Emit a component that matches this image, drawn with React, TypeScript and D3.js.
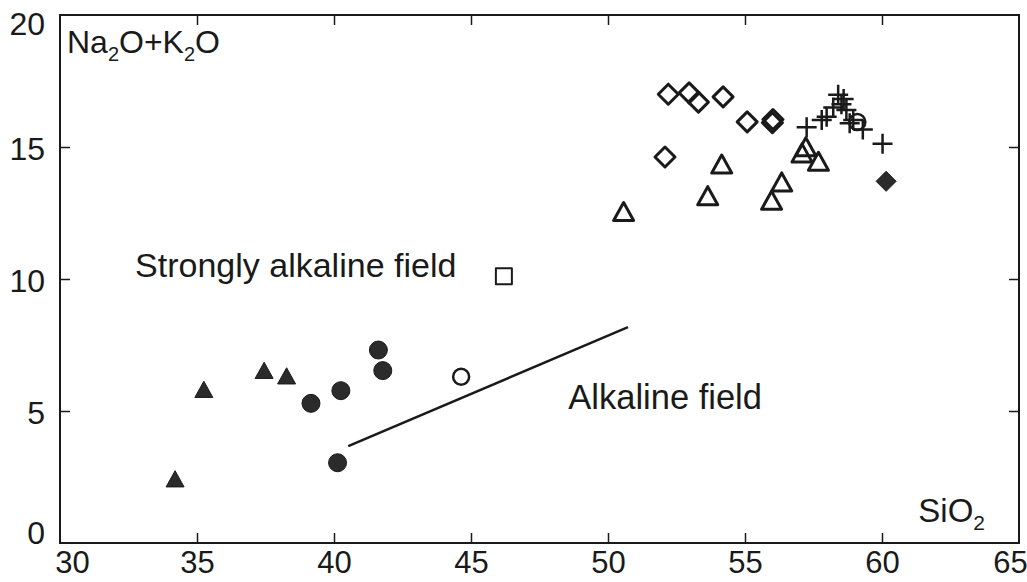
import { useEffect, useRef } from 'react';
import * as d3 from 'd3';

// SiO2 (x) vs Na2O+K2O (y)
const filledTriangles: [number, number][] = [[34.2, 2.38], [35.25, 5.77], [37.45, 6.49], [38.27, 6.28]];
const filledCircles: [number, number][] = [[39.16, 5.29], [40.25, 5.77], [41.62, 7.31], [41.78, 6.53], [40.13, 3.04]];
const openCircles: [number, number][] = [[44.64, 6.3], [59.1, 15.95]];
const openSquares: [number, number][] = [[46.2, 10.1]];
const openTriangles: [number, number][] = [
  [50.57, 12.5], [53.64, 13.1], [54.15, 14.3], [55.97, 12.93], [56.34, 13.62],
  [57.08, 14.72], [57.22, 14.95], [57.68, 14.4],
];
const openDiamonds: [number, number][] = [
  [52.2, 17.0], [52.96, 17.05], [53.3, 16.7], [54.2, 16.9], [55.08, 15.95],
  [56.0, 15.92], [56.02, 16.04], [52.08, 14.62],
];
const filledDiamonds: [number, number][] = [[60.15, 13.7]];
const crosses: [number, number][] = [
  [57.25, 15.75], [60.02, 15.12], [58.4, 16.98], [58.52, 16.62], [57.98, 16.15],
  [57.8, 16.02], [58.7, 16.4], [58.95, 16.02], [59.3, 15.66], [58.82, 15.9],
  [58.22, 16.5], [58.6, 16.82],
];
const boundary: [number, number][] = [[40.52, 3.67], [50.73, 8.18]];

const xTicks = [30, 35, 40, 45, 50, 55, 60, 65];
const yTicks = [0, 5, 10, 15, 20];

// custom symbol types, drawn at "size" = half-width in px
const triType = {
  draw(ctx: any, r: number) {
    ctx.moveTo(0, -r * 1.05);
    ctx.lineTo(r, r * 0.75);
    ctx.lineTo(-r, r * 0.75);
    ctx.closePath();
  },
};
const diamondType = {
  draw(ctx: any, r: number) {
    ctx.moveTo(0, -r);
    ctx.lineTo(r, 0);
    ctx.lineTo(0, r);
    ctx.lineTo(-r, 0);
    ctx.closePath();
  },
};
const squareType = {
  draw(ctx: any, r: number) {
    ctx.rect(-r, -r, 2 * r, 2 * r);
  },
};
const plusType = {
  draw(ctx: any, r: number) {
    ctx.moveTo(-r, 0);
    ctx.lineTo(r, 0);
    ctx.moveTo(0, -r);
    ctx.lineTo(0, r);
  },
};
const circleType = {
  draw(ctx: any, r: number) {
    ctx.moveTo(r, 0);
    ctx.arc(0, 0, r, 0, 2 * Math.PI);
  },
};

export default function App() {
  const ref = useRef<SVGSVGElement | null>(null);

  useEffect(() => {
    if (!ref.current) return;
    document.body.style.margin = '0';

    const svg = d3.select(ref.current);
    svg.selectAll('*').remove();

    const width = 1027;
    const height = 582;
    const margin = { top: 15, right: 8, bottom: 39, left: 60 };

    const x = d3.scaleLinear().domain([30, 65]).range([margin.left, width - margin.right]);
    const y = d3.scaleLinear().domain([0, 20]).range([height - margin.bottom, margin.top]);

    svg.attr('width', width).attr('height', height).style('background', '#fff').style('display', 'block');

    const font = '"Liberation Sans", Arial, sans-serif';
    const ink = '#1a1a1a';

    // frame
    svg.append('rect')
      .attr('x', x(30))
      .attr('y', y(20))
      .attr('width', x(65) - x(30))
      .attr('height', y(0) - y(20))
      .attr('fill', 'none')
      .attr('stroke', ink)
      .attr('stroke-width', 2);

    const inner = xTicks.filter((d) => d > 30 && d < 65);
    const innerY = yTicks.filter((d) => d > 0 && d < 20);

    // bottom axis: labels (end labels nudged inward like the original)
    const bottom = svg.append('g')
      .attr('transform', `translate(0,${y(0)})`)
      .call(d3.axisBottom(x).tickValues(xTicks).tickSize(0).tickPadding(8).tickFormat(d3.format('d')));
    bottom.select('.domain').remove();
    bottom.selectAll('text')
      .attr('font-family', font)
      .attr('font-size', 31)
      .attr('fill', ink)
      .attr('dx', (d: any) => (d === 30 ? 12 : d === 65 ? -9 : 0));

    const bTicks = svg.append('g')
      .attr('transform', `translate(0,${y(0)})`)
      .call(d3.axisTop(x).tickValues(inner).tickSize(10).tickFormat(() => ''));
    bTicks.select('.domain').remove();

    const tTicks = svg.append('g')
      .attr('transform', `translate(0,${y(20)})`)
      .call(d3.axisBottom(x).tickValues(inner).tickSize(10).tickFormat(() => ''));
    tTicks.select('.domain').remove();

    // left axis
    const left = svg.append('g')
      .attr('transform', `translate(${x(30)},0)`)
      .call(d3.axisLeft(y).tickValues(yTicks).tickSize(0).tickPadding(15).tickFormat(d3.format('d')));
    left.select('.domain').remove();
    left.selectAll('text')
      .attr('font-family', font)
      .attr('font-size', 32)
      .attr('fill', ink)
      .attr('dy', (d: any) => (d === 0 ? '0.02em' : d === 20 ? '0.6em' : '0.4em'));

    const lTicks = svg.append('g')
      .attr('transform', `translate(${x(30)},0)`)
      .call(d3.axisRight(y).tickValues(innerY).tickSize(10).tickFormat(() => ''));
    lTicks.select('.domain').remove();

    const rTicks = svg.append('g')
      .attr('transform', `translate(${x(65)},0)`)
      .call(d3.axisLeft(y).tickValues(innerY).tickSize(10).tickFormat(() => ''));
    rTicks.select('.domain').remove();

    svg.selectAll('.tick line').attr('stroke', ink).attr('stroke-width', 1.5);

    // field boundary
    svg.append('path')
      .attr('d', d3.line<[number, number]>().x((d) => x(d[0])).y((d) => y(d[1]))(boundary)!)
      .attr('fill', 'none')
      .attr('stroke', ink)
      .attr('stroke-width', 2.5);

    // markers
    const series = [
      { data: openTriangles, type: triType, r: 10, fill: 'none', sw: 3 },
      { data: openDiamonds, type: diamondType, r: 10, fill: 'none', sw: 3 },
      { data: crosses, type: plusType, r: 10, fill: 'none', sw: 2.5 },
      { data: openCircles, type: circleType, r: 8, fill: 'none', sw: 2.5 },
      { data: openSquares, type: squareType, r: 8, fill: 'none', sw: 2 },
      { data: filledTriangles, type: triType, r: 9, fill: '#2b2b2b', sw: 1 },
      { data: filledCircles, type: circleType, r: 9, fill: '#2b2b2b', sw: 1 },
      { data: filledDiamonds, type: diamondType, r: 10, fill: '#2b2b2b', sw: 1 },
    ];

    series.forEach((s) => {
      const sym = d3.symbol().type(s.type as any).size(s.r);
      svg.append('g')
        .selectAll('path')
        .data(s.data)
        .join('path')
        .attr('transform', (d) => `translate(${x(d[0])},${y(d[1])})`)
        .attr('d', sym()!)
        .attr('fill', s.fill)
        .attr('stroke', ink)
        .attr('stroke-width', s.sw)
        .attr('stroke-linejoin', 'round');
    });

    // labels
    const yTitle = svg.append('text')
      .attr('x', x(30) + 7)
      .attr('y', y(20) + 38)
      .attr('font-family', font)
      .attr('font-size', 32)
      .attr('fill', ink);
    yTitle.append('tspan').text('Na');
    yTitle.append('tspan').attr('font-size', 20).attr('dy', 8).text('2');
    yTitle.append('tspan').attr('dy', -8).text('O+K');
    yTitle.append('tspan').attr('font-size', 20).attr('dy', 8).text('2');
    yTitle.append('tspan').attr('dy', -8).text('O');

    const xTitle = svg.append('text')
      .attr('x', x(65) - 34)
      .attr('y', y(0) - 21)
      .attr('text-anchor', 'end')
      .attr('font-family', font)
      .attr('font-size', 33)
      .attr('fill', ink);
    xTitle.append('tspan').text('SiO');
    xTitle.append('tspan').attr('font-size', 21).attr('dy', 8).text('2');

    svg.append('text')
      .attr('x', x(32.74))
      .attr('y', y(10.08))
      .attr('font-family', font)
      .attr('font-size', 34)
      .attr('fill', ink)
      .text('Strongly alkaline field');

    svg.append('text')
      .attr('x', x(48.55))
      .attr('y', y(5.08))
      .attr('font-family', font)
      .attr('font-size', 34.5)
      .attr('fill', ink)
      .text('Alkaline field');
  }, []);

  return <svg ref={ref}></svg>;
}
